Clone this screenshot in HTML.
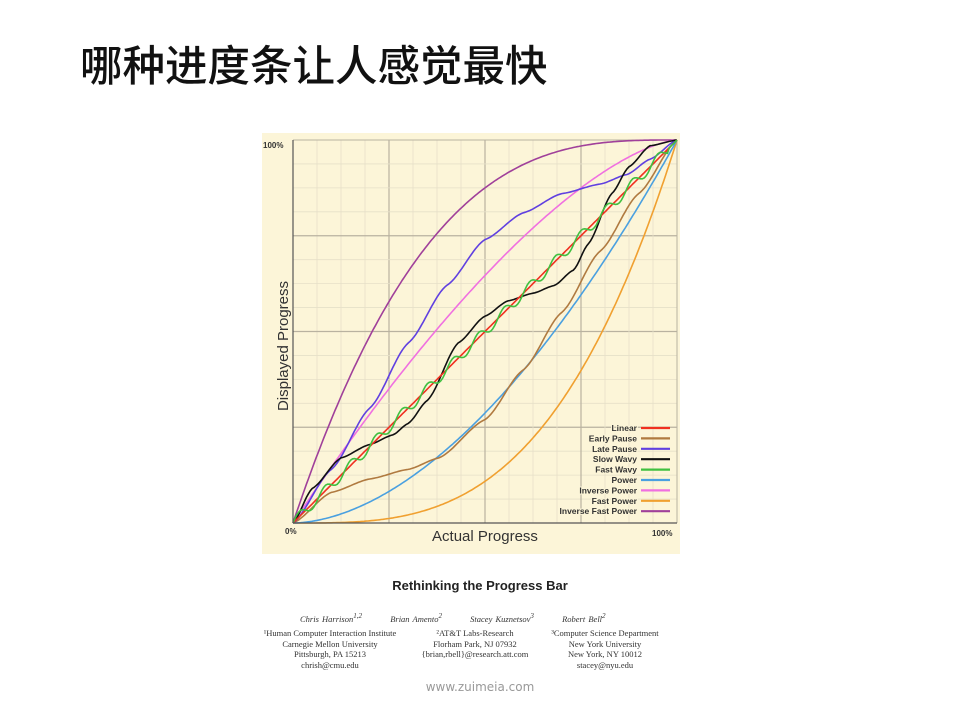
<!DOCTYPE html>
<html><head><meta charset="utf-8"><style>
body{margin:0;background:#fff;width:960px;height:720px;overflow:hidden;position:relative;font-family:"Liberation Sans",sans-serif}
.t{position:absolute;left:80px;top:43px;font-size:42.5px;line-height:50px;font-family:"Liberation Sans","Noto Sans CJK SC",sans-serif;color:#111;font-weight:500}
.sub{position:absolute;font-family:"Liberation Serif",serif;font-size:8.5px;color:#333;text-align:center;line-height:10.5px}
</style></head><body>
<div class="t">哪种进度条让人感觉最快</div>
<svg width="960" height="720" style="position:absolute;left:0;top:0">
<rect x="262" y="133" width="418" height="421" fill="#fcf5d8"/>
<g id="grid"></g>
<g id="curves" fill="none" stroke-width="1.6"></g>
<line x1="293" y1="140" x2="293" y2="523" stroke="#555" stroke-width="1.2"/>
<line x1="293" y1="523" x2="677" y2="523" stroke="#555" stroke-width="1.2"/>
<g font-weight="bold" font-size="8" fill="#333">
<text x="263" y="148">100%</text>
<text x="285" y="534">0%</text>
<text x="652" y="536">100%</text>
</g>
<text x="485" y="541" font-size="15" text-anchor="middle" fill="#333">Actual Progress</text>
<text transform="translate(288,346) rotate(-90)" font-size="15" text-anchor="middle" fill="#333">Displayed Progress</text>
<g id="legend" font-size="8.5" font-weight="bold" fill="#333" text-anchor="end"></g>
<text x="480" y="590" font-size="13" font-weight="bold" text-anchor="middle" fill="#222">Rethinking the Progress Bar</text>
<text x="480" y="691" font-size="12" text-anchor="middle" fill="#999" font-family="DejaVu Sans, sans-serif">www.zuimeia.com</text>
</svg>
<div class="sub" style="left:300px;top:611px;width:380px;text-align:left;font-style:italic;word-spacing:1px">Chris Harrison<sup>1,2</sup> &nbsp;&nbsp;&nbsp;&nbsp;&nbsp;&nbsp;&nbsp;&nbsp;Brian Amento<sup>2</sup> &nbsp;&nbsp;&nbsp;&nbsp;&nbsp;&nbsp;&nbsp;&nbsp;Stacey Kuznetsov<sup>3</sup> &nbsp;&nbsp;&nbsp;&nbsp;&nbsp;&nbsp;&nbsp;&nbsp;Robert Bell<sup>2</sup></div>
<div class="sub" style="left:245px;top:628px;width:170px">¹Human Computer Interaction Institute<br>Carnegie Mellon University<br>Pittsburgh, PA 15213<br>chrish@cmu.edu</div>
<div class="sub" style="left:400px;top:628px;width:150px">²AT&amp;T Labs-Research<br>Florham Park, NJ 07932<br>{brian,rbell}@research.att.com</div>
<div class="sub" style="left:530px;top:628px;width:150px">³Computer Science Department<br>New York University<br>New York, NY 10012<br>stacey@nyu.edu</div>
<script>
var X0=293,Y0=523,W=384,H=383,NS="http://www.w3.org/2000/svg";
function el(p,t,a){var e=document.createElementNS(NS,t);for(var k in a)e.setAttribute(k,a[k]);p.appendChild(e);return e}
var g=document.getElementById('grid');
for(var i=1;i<16;i++){var maj=i%4==0;var x=X0+W*i/16,y=Y0-H*i/16;
el(g,'line',{x1:x,y1:140,x2:x,y2:523,stroke:maj?'#b9b2a0':'#e6e0c8','stroke-width':maj?1.2:0.8});
el(g,'line',{x1:293,y1:y,x2:677,y2:y,stroke:maj?'#b9b2a0':'#e6e0c8','stroke-width':maj?1.2:0.8});}
el(g,'line',{x1:293,y1:140,x2:677,y2:140,stroke:'#b9b2a0'});
el(g,'line',{x1:677,y1:140,x2:677,y2:523,stroke:'#b9b2a0'});
function interp(pts){return function(x){for(var i=1;i<pts.length;i++){if(x<=pts[i][0]){var a=pts[i-1],b=pts[i];var t=(x-a[0])/(b[0]-a[0]);t=t*t*(3-2*t)*0.5+t*0.5;return a[1]+(b[1]-a[1])*t}}return 1}}
var series=[
['Inverse Fast Power','#a0409a',function(x){return 1-Math.pow(1-x,3)}],
['Fast Power','#f0a030',function(x){return Math.pow(x,3.2)}],
['Inverse Power','#f070e0',function(x){return 1-Math.pow(1-x,1.5)}],
['Power','#4aa0e0',function(x){return Math.pow(x,1.8)}],
['Early Pause','#b07a40',interp([[0,0],[0.1,0.08],[0.2,0.115],[0.3,0.14],[0.38,0.17],[0.5,0.27],[0.6,0.4],[0.7,0.55],[0.8,0.71],[0.9,0.86],[1,1]])],
['Late Pause','#6040e0',interp([[0,0],[0.1,0.14],[0.2,0.3],[0.3,0.47],[0.4,0.62],[0.5,0.74],[0.6,0.81],[0.7,0.86],[0.8,0.885],[0.87,0.91],[0.93,0.95],[1,1]])],
['Slow Wavy','#111',interp([[0,0],[0.05,0.09],[0.125,0.17],[0.2,0.205],[0.26,0.23],[0.3,0.26],[0.35,0.32],[0.43,0.47],[0.5,0.54],[0.56,0.58],[0.625,0.6],[0.68,0.62],[0.73,0.66],[0.77,0.73],[0.83,0.86],[0.875,0.93],[0.93,0.985],[1,1]])],
['Linear','#f03020',function(x){return x}],
['Fast Wavy','#40c040',function(x){return x+0.014*Math.sin(2*Math.PI*x*15)*(x<0.98?1:0)}]
];
var c=document.getElementById('curves');
series.forEach(function(s){var d='';for(var i=0;i<=200;i++){var x=i/200,y=s[2](x);d+=(i?'L':'M')+(X0+W*x).toFixed(1)+' '+(Y0-H*y).toFixed(1)}el(c,'path',{d:d,stroke:s[1]})});
var order=['Linear','Early Pause','Late Pause','Slow Wavy','Fast Wavy','Power','Inverse Power','Fast Power','Inverse Fast Power'];
var lg=document.getElementById('legend');
order.forEach(function(n,i){var col=series.filter(function(s){return s[0]==n})[0][1];var y=428+i*10.4;
var t=el(lg,'text',{x:637,y:y+3,stroke:'#fcf5d8','stroke-width':2,'paint-order':'stroke'});t.textContent=n;
el(lg,'line',{x1:641,y1:y,x2:670,y2:y,stroke:col,'stroke-width':2.2});});
</script>
</body></html>
